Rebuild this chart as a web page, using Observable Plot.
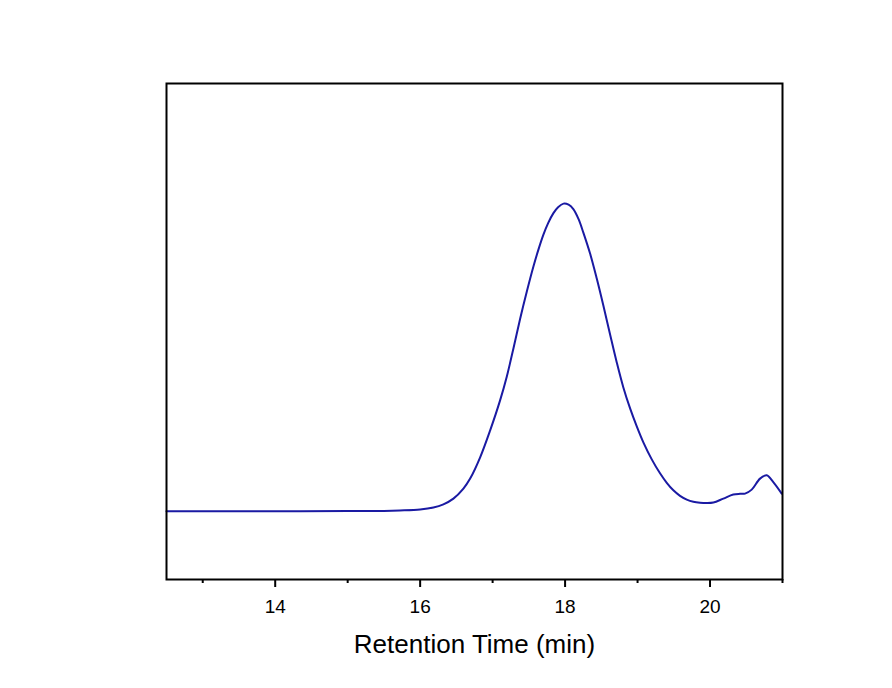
<!DOCTYPE html>
<html>
<head>
<meta charset="utf-8">
<script src="https://cdn.jsdelivr.net/npm/d3@7"></script>
<script src="https://cdn.jsdelivr.net/npm/@observablehq/plot@0.6"></script>
<style>
  html, body { margin: 0; padding: 0; background: #ffffff; }
</style>
</head>
<body>
<div id="chart"></div>
<script>
// Retention time (min)
const times = [12.5, 13.0, 14.0, 15.0, 15.5, 15.72, 16.0, 16.183, 16.321, 16.459, 16.597, 16.69, 16.828, 16.966, 17.103, 17.196, 17.287, 17.379, 17.472, 17.563, 17.632, 17.701, 17.766, 17.839, 17.903, 17.979, 18.048, 18.114, 18.186, 18.252, 18.345, 18.437, 18.528, 18.621, 18.713, 18.804, 18.897, 18.989, 19.08, 19.196, 19.31, 19.403, 19.494, 19.586, 19.679, 19.77, 19.862, 19.954, 20.046, 20.184, 20.321, 20.414, 20.483, 20.575, 20.69, 20.782, 20.873, 20.989];
// Detector signal (arbitrary units)
const signal = [13.75, 13.75, 13.75, 13.79, 13.83, 13.91, 14.10, 14.50, 15.16, 16.31, 18.32, 20.34, 24.63, 30.06, 36.11, 40.94, 46.58, 52.52, 58.05, 63.09, 66.51, 69.53, 71.85, 73.86, 75.07, 75.78, 75.57, 74.67, 72.65, 69.94, 65.71, 60.67, 55.24, 49.40, 43.76, 38.72, 34.49, 30.87, 27.65, 24.22, 21.41, 19.49, 17.98, 16.87, 16.11, 15.67, 15.47, 15.40, 15.51, 16.31, 17.12, 17.28, 17.32, 18.12, 20.34, 21.00, 19.65, 17.32];
const majorTicks = [14, 16, 18, 20];
const minorTicks = [13, 15, 17, 19, 21];
const xLabel = "Retention Time (min)";

const data = times.map((t, i) => ({t, v: signal[i]}));

const chart = Plot.plot({
  width: 892,
  height: 688,
  marginLeft: 166,
  marginRight: 110,
  marginTop: 83,
  marginBottom: 109,
  x: {domain: [12.5, 21], label: null},
  y: {domain: [0, 100], axis: null, label: null},
  style: {fontFamily: "'Liberation Sans', Arial, sans-serif", fontSize: "19px", background: "#ffffff", color: "#000"},
  marks: [
    Plot.line(data, {x: "t", y: "v", stroke: "#1a1aa3", strokeWidth: 2, curve: "catmull-rom"}),
    Plot.axisX({ticks: minorTicks, tickSize: 4, strokeWidth: 2, tickFormat: () => "", label: null}),
    Plot.axisX({ticks: majorTicks, tickSize: 8, strokeWidth: 2, tickFormat: () => "", label: null}),
    Plot.text(majorTicks, {x: d => d, text: d => String(d), frameAnchor: "bottom", lineAnchor: "middle", dy: 27, fontSize: 19, fill: "#000"}),
    Plot.frame({stroke: "#000", strokeWidth: 2}),
    Plot.text([xLabel], {text: d => d, frameAnchor: "bottom", lineAnchor: "middle", dy: 65, fontSize: 26, fill: "#000"})
  ]
});
document.getElementById("chart").appendChild(chart);
</script>
</body>
</html>
